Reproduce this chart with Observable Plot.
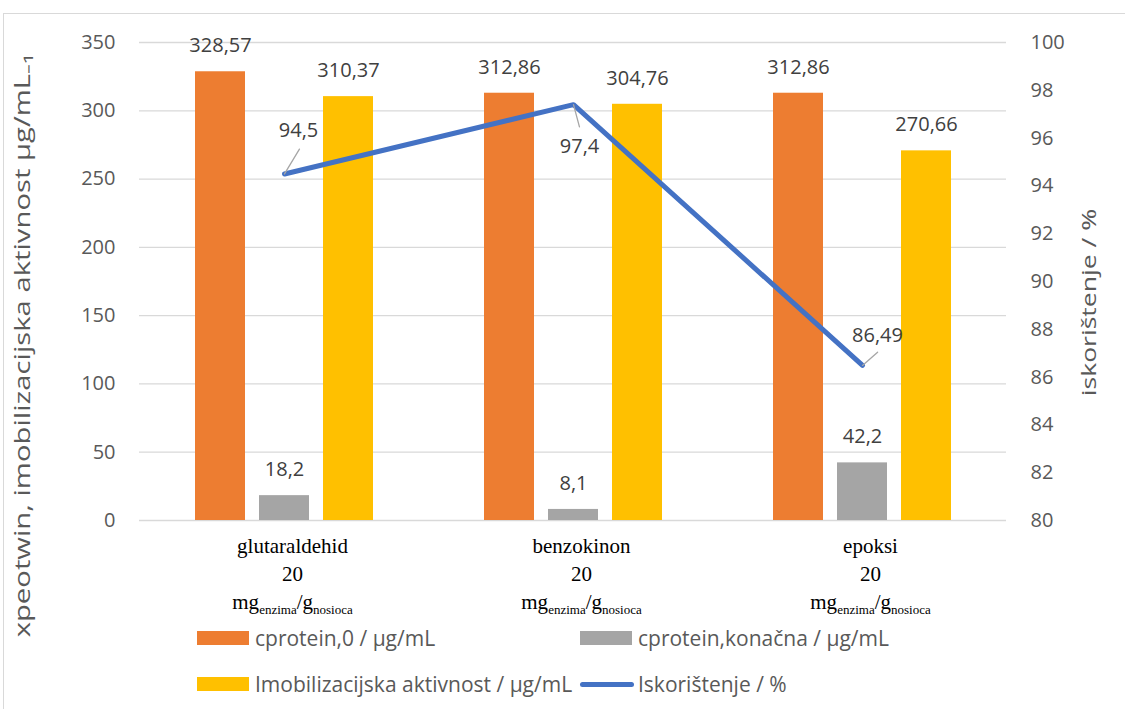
<!DOCTYPE html>
<html>
<head>
<meta charset="utf-8">
<script src="https://cdn.jsdelivr.net/npm/d3@7"></script>
<script src="https://cdn.jsdelivr.net/npm/@observablehq/plot@0.6"></script>
<style>
  body { margin: 0; background: #fff; font-family: "Open Sans", sans-serif; }
  #wrap { position: relative; width: 1125px; height: 709px; overflow: hidden; background: #fff; }
  #frame { position: absolute; left: 3px; top: 13px; width: 1300px; height: 900px;
           border-left: 1.5px solid #d9d9d9; border-top: 1.5px solid #d9d9d9; }
  #chart { position: absolute; left: 0; top: 0; }
  .lg { position: absolute; display: flex; align-items: center; font-size: 21px; color: #595959; white-space: nowrap; }
  .sw { width: 52px; height: 14px; margin-right: 6px; }
  .ln { width: 54px; height: 5px; border-radius: 3px; margin-right: 4px; }
</style>
</head>
<body>
<div id="wrap">
  <div id="frame"></div>
  <div id="chart"></div>
  <div id="legend"></div>
</div>
<script>
// ---- data ----
const categories = ["glutaraldehid", "benzokinon", "epoksi"];
const doseLine = "20";
const unitLine = "mg_enzima/g_nosioca";
const cProtein0 = [328.57, 312.86, 312.86];
const cProteinFinal = [18.2, 8.1, 42.2];
const immobActivity = [310.37, 304.76, 270.66];
const yieldPct = [94.5, 97.4, 86.49];
const leftTicks = [0, 50, 100, 150, 200, 250, 300, 350];
const rightTicks = [80, 82, 84, 86, 88, 90, 92, 94, 96, 98, 100];
const seriesNames = ["cprotein,0 / µg/mL", "cprotein,konačna / µg/mL", "Imobilizacijska aktivnost / µg/mL", "Iskorištenje / %"];
const seriesColors = ["#ED7D31", "#A5A5A5", "#FFC000", "#4472C4"];
const leftTitle = "xpeotwin, imobilizacijska aktivnost µg/mL₋₁";
const rightTitle = "iskorištenje / %";

// ---- build ----
const rows = categories.map((c, i) => ({cat: c, c0: cProtein0[i], cf: cProteinFinal[i], ia: immobActivity[i], yp: yieldPct[i]}));
const leftMax = 350, rightMin = 80, rightMax = 100;
const toLeft = v => (v - rightMin) * leftMax / (rightMax - rightMin);
const fromLeft = v => v * (rightMax - rightMin) / leftMax + rightMin;
const fmt = v => String(v).replace(".", ",");
const labelColor = "#404040";
const tickColor = "#595959";
const leader = {draw(context, l) { context.moveTo(0, 0); context.lineTo(0, -l); }};

const lineLabel = (i, dx, dy) => Plot.text([rows[i]], {x: "cat", y: d => toLeft(d.yp), text: d => fmt(d.yp), dx, dy, fontSize: 20, fill: labelColor});
const lineLeader = (i, length, rotate) => Plot.vector([rows[i]], {x: "cat", y: d => toLeft(d.yp), length, rotate, anchor: "start", shape: leader, stroke: "#A6A6A6", strokeWidth: 1.3});

const barOff = 64;
const chart = Plot.plot({
  width: 1125, height: 709,
  marginLeft: 139, marginRight: 119, marginTop: 42, marginBottom: 189,
  style: {fontFamily: "Open Sans, sans-serif", background: "transparent", overflow: "visible"},
  x: {type: "band", domain: categories, paddingInner: 0.827, paddingOuter: 0.4135, axis: null},
  y: {domain: [0, leftMax], axis: null},
  marks: [
    Plot.gridY(leftTicks, {stroke: "#D9D9D9", strokeOpacity: 1, strokeWidth: 1.3}),
    Plot.axisY(leftTicks, {anchor: "left", tickSize: 0, tickPadding: 24, fontSize: 20, fill: tickColor, label: null}),
    Plot.axisY(rightTicks.map(toLeft), {anchor: "right", tickSize: 0, tickPadding: 24, fontSize: 20, fill: tickColor, label: null, tickFormat: v => String(Math.round(fromLeft(v)))}),
    Plot.barY(rows, {x: "cat", y: "c0", dx: -barOff, fill: seriesColors[0]}),
    Plot.barY(rows, {x: "cat", y: "cf", fill: seriesColors[1]}),
    Plot.barY(rows, {x: "cat", y: "ia", dx: barOff, fill: seriesColors[2]}),
    Plot.text(rows, {x: "cat", y: "c0", text: d => fmt(d.c0), dx: -barOff, dy: -26, fontSize: 20, fill: labelColor}),
    Plot.text(rows, {x: "cat", y: "cf", text: d => fmt(d.cf), dy: -26, fontSize: 20, fill: labelColor}),
    Plot.text(rows, {x: "cat", y: "ia", text: d => fmt(d.ia), dx: barOff, dy: -26, fontSize: 20, fill: labelColor}),
    Plot.line(rows, {x: "cat", y: d => toLeft(d.yp), stroke: seriesColors[3], strokeWidth: 5, strokeLinejoin: "round", strokeLinecap: "round"}),
    lineLeader(0, 29, 31),
    lineLeader(1, 23, 165),
    lineLeader(2, 20, 49),
    lineLabel(0, 14, -43),
    lineLabel(1, 6, 42),
    lineLabel(2, 15, -30),
    Plot.text(rows, {x: "cat", frameAnchor: "bottom", lineAnchor: "top", dx: 8, dy: 12, lineHeight: 1.35,
      text: d => `${d.cat}\n${doseLine}\n${unitLine}`, fontSize: 21, fontFamily: "Liberation Serif, Times New Roman, serif", fill: "#000"}),
    Plot.text([leftTitle], {frameAnchor: "left", textAnchor: "middle", text: d => d, rotate: -90, dx: -117, dy: 64, fontSize: 22, fill: tickColor, className: "stretch-title"}),
    Plot.text([rightTitle], {frameAnchor: "right", textAnchor: "middle", text: d => d, rotate: -90, dx: 83, dy: 21, fontSize: 20, fill: tickColor, className: "stretch-title"})
  ]
});
document.getElementById("chart").appendChild(chart);

// the axis titles in the reference are stretched along their reading direction
chart.querySelectorAll(".stretch-title text").forEach(t => {
  t.setAttribute("transform", (t.getAttribute("transform") || "") + " scale(1.33,1)");
});

// subscripts in the unit line of the category labels
const NS = "http://www.w3.org/2000/svg";
chart.querySelectorAll("tspan").forEach(t => {
  if (t.textContent === unitLine) {
    t.textContent = "";
    const parts = unitLine.split("/").map(p => p.split("_"));
    parts.forEach((p, k) => {
      const main = document.createElementNS(NS, "tspan");
      main.textContent = (k > 0 ? "/" : "") + p[0];
      if (k > 0) main.setAttribute("dy", "-5");
      t.appendChild(main);
      const sub = document.createElementNS(NS, "tspan");
      sub.textContent = p[1];
      sub.setAttribute("font-size", "13");
      sub.setAttribute("dy", "5");
      t.appendChild(sub);
    });
  }
});

// legend
const legend = document.getElementById("legend");
const legendPos = [[197, 638], [580, 638], [197, 684], [580, 684]];
seriesNames.forEach((name, i) => {
  const d = document.createElement("div");
  d.className = "lg";
  d.style.left = legendPos[i][0] + "px";
  d.style.top = (legendPos[i][1] - 14) + "px";
  d.style.height = "28px";
  const s = document.createElement("div");
  s.className = i === 3 ? "ln" : "sw";
  s.style.background = seriesColors[i];
  d.appendChild(s);
  const t = document.createElement("span");
  t.textContent = name;
  d.appendChild(t);
  legend.appendChild(d);
});
</script>
</body>
</html>
